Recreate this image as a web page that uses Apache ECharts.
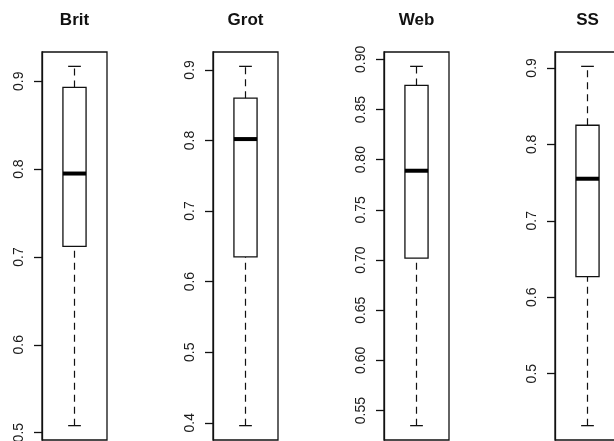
<!DOCTYPE html>
<html>
<head>
<meta charset="utf-8">
<script src="https://cdn.jsdelivr.net/npm/echarts@6/dist/echarts.min.js"></script>
<style>
  html, body { margin: 0; padding: 0; background: #fff; }
  #chart { width: 614px; height: 441px; }
</style>
</head>
<body>
<div id="chart"></div>
<script>
// Four boxplots side by side, one per corpus
const panels = ['Brit', 'Grot', 'Web', 'SS'];
const lowWhisker = [0.508, 0.396, 0.535, 0.432];
const lowerQuartile = [0.712, 0.635, 0.702, 0.627];
const medians = [0.795, 0.802, 0.789, 0.755];
const upperQuartile = [0.893, 0.860, 0.874, 0.825];
const highWhisker = [0.917, 0.905, 0.893, 0.902];

// y-axis tick labels for each panel
const ticksBrit = ['0.5', '0.6', '0.7', '0.8', '0.9'];
const ticksGrot = ['0.4', '0.5', '0.6', '0.7', '0.8', '0.9'];
const ticksWeb = ['0.55', '0.60', '0.65', '0.70', '0.75', '0.80', '0.85', '0.90'];
const ticksSS = ['0.5', '0.6', '0.7', '0.8', '0.9'];
const tickLabels = [ticksBrit, ticksGrot, ticksWeb, ticksSS];

// panel frame geometry (px)
const frameLefts = [42, 213, 384, 555];
const frameWidth = 65;
const frameTop = 52;
const frameHeight = 388;

const ink = '#111';

function renderBox(params, api) {
  const x = api.value(0);
  const lo = api.coord([x, api.value(1)]);
  const b1 = api.coord([x, api.value(2)]);
  const md = api.coord([x, api.value(3)]);
  const b3 = api.coord([x, api.value(4)]);
  const hi = api.coord([x, api.value(5)]);
  const band = api.size([1, 0])[0];
  const hw = band * 0.178;
  const cw = hw * 0.55;
  const cx = lo[0];
  const dashed = { stroke: ink, lineWidth: 1.2, lineDash: [7, 5] };
  const solid = { stroke: ink, lineWidth: 1.3 };
  return {
    type: 'group',
    children: [
      { type: 'line', shape: { x1: cx, y1: lo[1], x2: cx, y2: b1[1] }, style: dashed },
      { type: 'line', shape: { x1: cx, y1: b3[1], x2: cx, y2: hi[1] }, style: dashed },
      { type: 'line', shape: { x1: cx - cw, y1: lo[1], x2: cx + cw, y2: lo[1] }, style: solid },
      { type: 'line', shape: { x1: cx - cw, y1: hi[1], x2: cx + cw, y2: hi[1] }, style: solid },
      { type: 'rect', shape: { x: cx - hw, y: b3[1], width: 2 * hw, height: b1[1] - b3[1] },
        style: { fill: '#fff', stroke: ink, lineWidth: 1.3 } },
      { type: 'line', shape: { x1: cx - hw, y1: md[1], x2: cx + hw, y2: md[1] },
        style: { stroke: '#000', lineWidth: 4 } }
    ]
  };
}

const titles = [], grids = [], xAxes = [], yAxes = [], series = [];
panels.forEach(function (name, i) {
  const lo = lowWhisker[i], hi = highWhisker[i];
  const pad = (hi - lo) * 0.04;
  titles.push({
    text: name,
    left: frameLefts[i] + frameWidth / 2,
    top: 12,
    padding: 0,
    textAlign: 'center',
    textStyle: {
      fontFamily: 'Liberation Sans',
      fontWeight: 'bold', fontSize: 17, color: '#111'
    }
  });
  grids.push({
    left: frameLefts[i], top: frameTop, width: frameWidth, height: frameHeight,
    outerBoundsMode: 'none', containLabel: false,
    show: true, borderColor: ink, borderWidth: 1.3, backgroundColor: 'transparent'
  });
  xAxes.push({
    type: 'category', gridIndex: i, data: [name], show: false, boundaryGap: true
  });
  const vals = tickLabels[i].map(Number);
  yAxes.push({
    type: 'value', gridIndex: i, min: lo - pad, max: hi + pad, scale: true,
    splitLine: { show: false },
    axisLine: { show: true, lineStyle: { color: ink, width: 1.3 } },
    axisTick: { show: true, inside: false, length: 8, customValues: vals,
      lineStyle: { color: ink, width: 1.3 } },
    axisLabel: {
      show: true, customValues: vals, rotate: 90, margin: 16,
      fontFamily: 'Liberation Sans', fontSize: 14, color: '#1a1a1a',
      formatter: function (v) {
        const digits = tickLabels[i][0].split('.')[1].length;
        return Number(v).toFixed(digits);
      }
    }
  });
  series.push({
    type: 'custom', xAxisIndex: i, yAxisIndex: i,
    renderItem: renderBox,
    encode: { x: 0, y: [1, 2, 3, 4, 5] },
    data: [[0, lowWhisker[i], lowerQuartile[i], medians[i], upperQuartile[i], highWhisker[i]]],
    silent: true
  });
});

const chart = echarts.init(document.getElementById('chart'), null, { renderer: 'canvas' });
chart.setOption({
  animation: false,
  backgroundColor: '#fff',
  title: titles,
  grid: grids,
  xAxis: xAxes,
  yAxis: yAxes,
  series: series
});
</script>
</body>
</html>
